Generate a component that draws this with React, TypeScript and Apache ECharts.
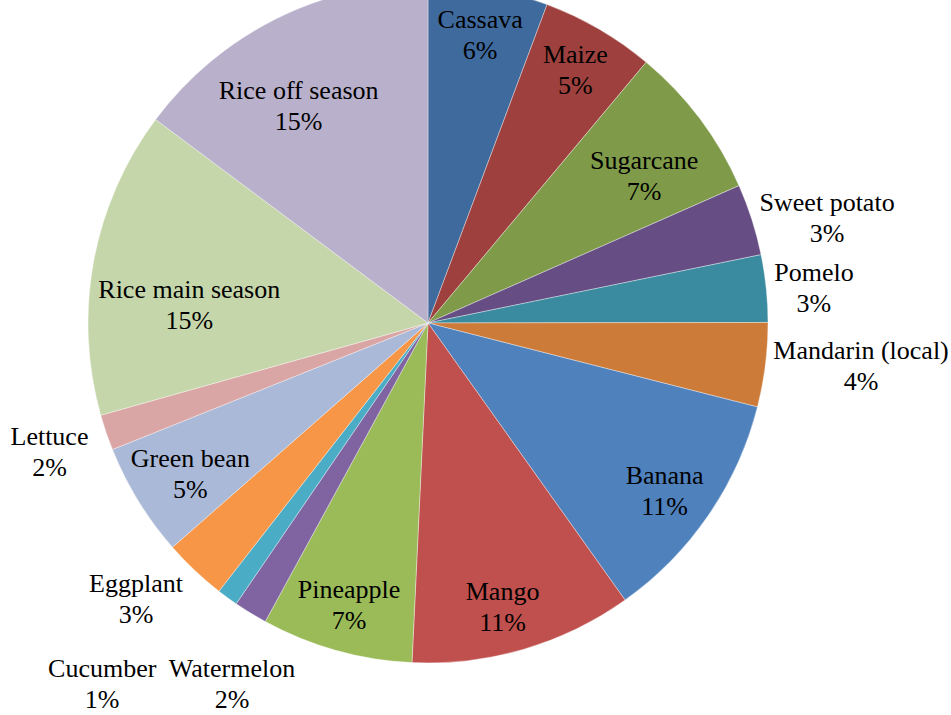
import React, { useEffect, useRef } from "react";
import * as echarts from "echarts";

const names = [
  "Cassava",
  "Maize",
  "Sugarcane",
  "Sweet potato",
  "Pomelo",
  "Mandarin (local)",
  "Banana",
  "Mango",
  "Pineapple",
  "Watermelon",
  "Cucumber",
  "Eggplant",
  "Green bean",
  "Lettuce",
  "Rice main season",
  "Rice off season",
];
const values = [5.7, 5.4, 7.3, 3.4, 3.2, 4.0, 11.2, 10.6, 7.2, 1.6, 1.0, 3.0, 5.4, 1.7, 14.6, 14.8];
const colors = [
  "#3F6A9D",
  "#9E413E",
  "#7F9B49",
  "#664E84",
  "#3B8BA0",
  "#CC7B38",
  "#4F81BD",
  "#C0504D",
  "#9BBB59",
  "#8064A2",
  "#4BACC6",
  "#F79646",
  "#AAB9D7",
  "#DAA6A5",
  "#C6D6AB",
  "#B9B0CB",
];

// label placement groups
const insideOuterRing = ["Cassava", "Maize", "Banana", "Mango", "Pineapple", "Green bean"];
const insideInnerRing = ["Sugarcane", "Rice main season", "Rice off season"];

const FONT = '"Liberation Serif", "Times New Roman", serif';

export default function App() {
  const ref = useRef<HTMLDivElement>(null);

  useEffect(() => {
    if (!ref.current) return;
    const chart = echarts.init(ref.current, null, { renderer: "svg" });
    const total = values.reduce((a, b) => a + b, 0);
    const fmt = (p: any) => `{t|${p.name}}\n{t|${Math.round((p.value / total) * 100)}%}`;
    const rich = {
      t: { fontFamily: FONT, fontSize: 26, lineHeight: 31, color: "#000", align: "center" },
    };

    const outsideTweaks: Record<string, { len: number; len2: number; dist: number }> = {
      Eggplant: { len: 20, len2: 0, dist: 2 },
      Cucumber: { len: 107, len2: 6, dist: 2 },
      Watermelon: { len: 83, len2: 0, dist: -88 },
    };

    // small label nudges (dx, dy) to follow the reference's best-fit placement
    const nudges: Record<string, [number, number]> = {
      "Rice main season": [10, 28],
      "Rice off season": [-16, 9],
      Sugarcane: [14, 5],
      Lettuce: [-10, 18],
      Eggplant: [4, 14],
      "Green bean": [12, -2],
      Mango: [-8, 3],
      Banana: [-5, 2],
    };
    const nudge = (p: any) => {
      const n = names[p.dataIndex];
      const d = nudges[n];
      return d ? { dx: d[0], dy: d[1] } : {};
    };

    const isInside = (n: string) => insideOuterRing.includes(n) || insideInnerRing.includes(n);

    const mainData = names.map((n, i) => {
      const tw = outsideTweaks[n] || { len: 6, len2: 0, dist: 2 };
      return {
        name: n,
        value: values[i],
        itemStyle: { color: colors[i] },
        label: {
          show: !isInside(n),
          position: "outside",
          distanceToLabelLine: tw.dist,
        },
        labelLine: { show: false, length: tw.len, length2: tw.len2 },
      };
    });

    const overlayData = (group: string[]) =>
      names.map((n, i) => ({
        name: n,
        value: values[i],
        itemStyle: { color: "rgba(0,0,0,0)" },
        label: { show: group.includes(n) },
      }));

    const common = {
      type: "pie",
      center: [428, 323],
      startAngle: 90,
      clockwise: true,
      avoidLabelOverlap: false,
      emphasis: { disabled: true },
      labelLayout: nudge,
    };

    chart.setOption({
      animation: false,
      backgroundColor: "#fff",
      series: [
        {
          ...common,
          radius: 340,
          itemStyle: { borderColor: "rgba(255,255,255,0.6)", borderWidth: 0.6 },
          label: { formatter: fmt, rich },
          data: mainData,
        },
        {
          ...common,
          radius: [240, 340],
          silent: true,
          label: { position: "inside", formatter: fmt, rich },
          labelLine: { show: false },
          data: overlayData(insideOuterRing),
        },
        {
          ...common,
          radius: [160, 340],
          silent: true,
          label: { position: "inside", formatter: fmt, rich },
          labelLine: { show: false },
          data: overlayData(insideInnerRing),
        },
      ],
    });
    return () => chart.dispose();
  }, []);

  return (
    <div
      ref={ref}
      style={{ position: "absolute", left: 0, top: 0, width: 951, height: 715 }}
    />
  );
}
